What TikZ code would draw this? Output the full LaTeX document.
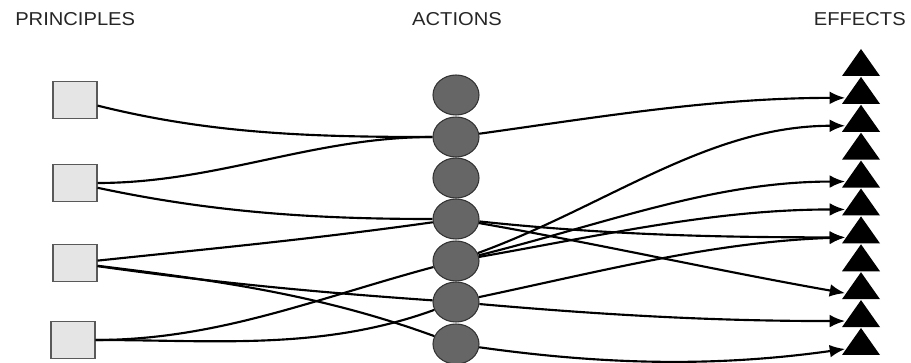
\documentclass[tikz,border=0pt]{standalone}
\usepackage{fontspec}
\setmainfont{Liberation Sans}
\newfontfamily\headfont[FakeStretch=1.08]{Liberation Sans}
\usetikzlibrary{arrows.meta,shapes.geometric}

\begin{document}
\begin{tikzpicture}[x=0.75pt,y=-0.75pt,
  principle/.style={draw=black!65,fill=black!10,line width=0.8pt,minimum width=33pt,minimum height=27.75pt,inner sep=0},
  action/.style={ellipse,draw=black!80,fill=black!60,line width=0.8pt,minimum width=34.5pt,minimum height=30pt,inner sep=0},
  effect/.style={minimum width=28.5pt,minimum height=20.25pt,inner sep=0,
    path picture={\fill[black] (path picture bounding box.south west) -- (path picture bounding box.south east) -- (path picture bounding box.north) -- cycle;}},
  heading/.style={font=\headfont\fontsize{14pt}{16pt}\selectfont,text=black!85,inner sep=0},
  link/.style={line width=1.6pt,looseness=0.9},
  effectlink/.style={link,-{Latex[length=11.5pt,width=9.5pt]}}]
\useasboundingbox (0,0) rectangle (911,363);

% draw headings
\node[heading,anchor=base west] (hprinciples) at (15,26) {PRINCIPLES};
\node[heading,anchor=base] (hactions) at (457,26) {ACTIONS};
\node[heading,anchor=base east] (heffects) at (906,26) {EFFECTS};

% draw principles
\node[principle] (p1) at (75,100) {};
\node[principle] (p2) at (75,183) {};
\node[principle] (p3) at (75,263) {};
\node[principle] (p4) at (73,340) {};

% draw actions
\node[action] (a1) at (456,95) {};
\node[action] (a2) at (456,137) {};
\node[action] (a3) at (456,178) {};
\node[action] (a4) at (456,219) {};
\node[action] (a5) at (456,261) {};
\node[action] (a6) at (456,302) {};
\node[action] (a7) at (456,344) {};

% draw effects
\node[effect] (e1) at (861,62.5) {};
\node[effect] (e2) at (861,90.4) {};
\node[effect] (e3) at (861,118.3) {};
\node[effect] (e4) at (861,146.2) {};
\node[effect] (e5) at (861,174.1) {};
\node[effect] (e6) at (861,202) {};
\node[effect] (e7) at (861,229.9) {};
\node[effect] (e8) at (861,257.8) {};
\node[effect] (e9) at (861,285.7) {};
\node[effect] (e10) at (861,313.6) {};
\node[effect] (e11) at (861,341.5) {};

% draw principles -> actions
\draw[link] (p1) to[out=-14,in=180] (a2);
\draw[link] (p2) to[out=0,in=180] (a2);
\draw[link] (p2) to[out=-12,in=180] (a4);
\draw[link] (p3) to[out=6,in=188] (a4);
\draw[link] (p3) to[out=-8,in=176] (a6);
\draw[link] (p3) to[out=-7,in=160] (a7);
\draw[link] (p4) to[out=0,in=195] (a5);
\draw[link] (p4) to[out=0,in=200] (a6);

% draw actions -> effects
\draw[effectlink] (a2) to[out=8,in=180] ([shift={(2.5pt,-5.6pt)}]e2.west);
\draw[effectlink] (a5) to[out=20,in=180] ([shift={(2.5pt,-5.6pt)}]e3.west);
\draw[effectlink] (a5) to[out=14,in=180] ([shift={(2.5pt,-5.6pt)}]e5.west);
\draw[effectlink] (a5) to[out=10,in=180] ([shift={(2.5pt,-5.6pt)}]e6.west);
\draw[effectlink] (a4) to[out=-6,in=180] ([shift={(2.5pt,-5.6pt)}]e7.west);
\draw[effectlink] (a6) to[out=12,in=182] ([shift={(2.5pt,-5.6pt)}]e7.west);
\draw[effectlink] (a4) to[out=-10,in=170] ([shift={(2.5pt,-5.6pt)}]e9.west);
\draw[effectlink] (a6) to[out=-5,in=180] ([shift={(2.5pt,-5.6pt)}]e10.west);
\draw[effectlink] (a7) to[out=-8,in=188] ([shift={(2.5pt,-5.6pt)}]e11.west);

\end{tikzpicture}
\end{document}
